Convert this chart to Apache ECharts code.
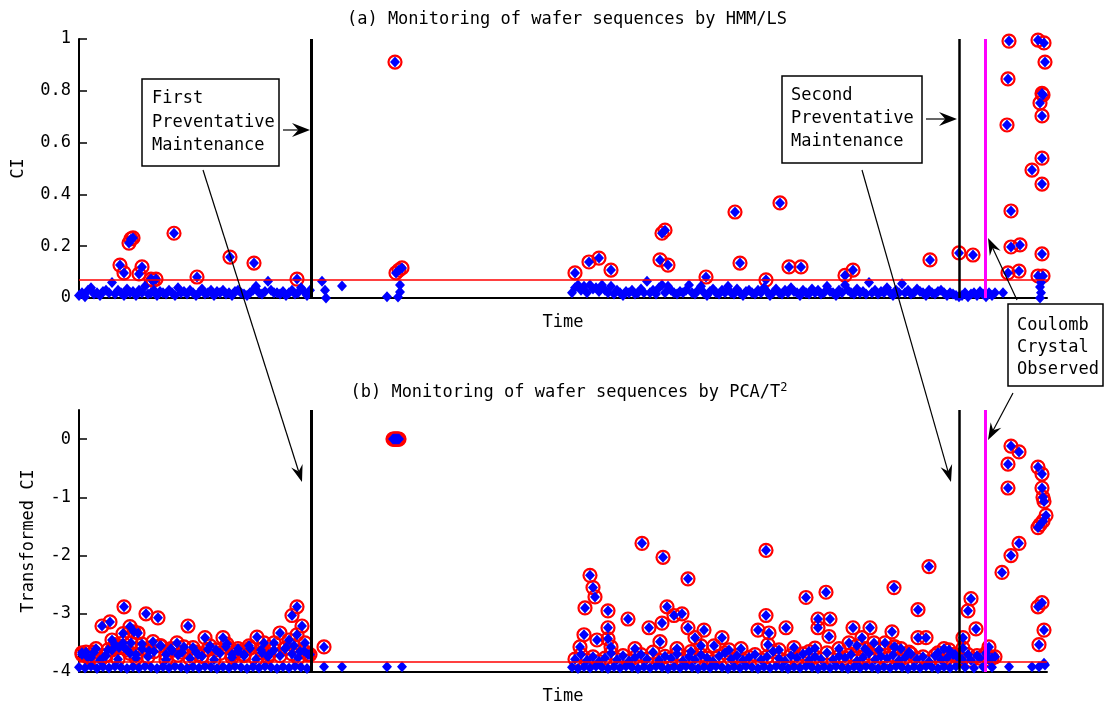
<!DOCTYPE html>
<html><head><meta charset="utf-8">
<script src="https://cdn.jsdelivr.net/npm/echarts@6/dist/echarts.min.js"></script>
<style>html,body{margin:0;padding:0;background:#fff}#chart{width:1105px;height:709px}</style>
</head><body><div id="chart"></div>
<script>
// ---------------- DATA ----------------
// time axis = wafer sample index
const timeMax = 968;
const sampleStep = 3;               // spacing of consecutive samples in the dense runs
const pm1Time = 232;                // first preventative maintenance
const pm2Time = 880;                // second preventative maintenance
const coulombTime = 906;            // Coulomb crystal observed
const hmmThreshold = 0.066;
const pcaThreshold = -3.83;
const hmmTicks = [0, 0.2, 0.4, 0.6, 0.8, 1];
const pcaTicks = [-4, -3, -2, -1, 0];

// (a) HMM/LS  -- dense runs (start sample, values every sampleStep)
const hmmRun1Start = 0;
const hmmRun1 = [0.01,0.02,0.005,0.03,0.04,0.015,0.02,0.01,0.025,0.03,
  0.02,0.06,0.015,0.03,0.02,0.01,0.035,0.02,0.025,0.01,
  0.03,0.02,0.045,0.015,0.02,0.03,0.01,0.025,0.02,0.015,
  0.03,0.02,0.01,0.04,0.02,0.025,0.015,0.03,0.02,0.01,
  0.02,0.035,0.015,0.02,0.03,0.01,0.025,0.02,0.03,0.015,
  0.02,0.01,0.025,0.03,0.02,0.015,0.01,0.02,0.03,0.045,
  0.02,0.015,0.025,0.065,0.03,0.02,0.02,0.015,0.025,0.01,
  0.02,0.03,0.015,0.02,0.04,0.025,0.01,0.03];
const hmmRun2Start = 493;
const hmmRun2 = [0.02,0.04,0.05,0.03,0.045,0.02,0.05,0.035,0.04,0.025,
  0.05,0.03,0.02,0.045,0.015,0.03,0.02,0.01,0.025,0.02,
  0.03,0.015,0.02,0.035,0.02,0.065,0.02,0.03,0.015,0.04,
  0.05,0.02,0.045,0.03,0.02,0.015,0.025,0.02,0.03,0.05,
  0.02,0.015,0.03,0.045,0.02,0.01,0.025,0.035,0.02,0.015,
  0.03,0.02,0.045,0.02,0.015,0.035,0.02,0.01,0.025,0.03,
  0.02,0.015,0.03,0.02,0.04,0.025,0.01,0.02,0.035,0.02,
  0.015,0.03,0.02,0.04,0.025,0.02,0.01,0.03,0.02,0.015,
  0.035,0.02,0.03,0.015,0.02,0.045,0.025,0.02,0.01,0.03,
  0.02,0.05,0.03,0.02,0.015,0.035,0.02,0.025,0.015,0.06,
  0.02,0.03,0.015,0.025,0.02,0.04,0.02,0.01,0.03,0.02,
  0.055,0.02,0.03,0.015,0.02,0.035,0.025,0.02,0.01,0.03,
  0.02,0.015,0.025,0.03,0.02,0.01,0.02,0.015,0.01,0.005];
const hmmRun3Start = 883;
const hmmRun3 = [0.01,0.02,0.005,0.015,0.02,0.01,0.025,0.015,0.005,0.02,0.01,0.02];
// (a) individual samples [time, CI]
const hmmPoints = [
  [41,0.127],[45,0.097],[50,0.212],[52,0.228],[54,0.232],[95,0.25],[60,0.093],[63,0.12],
  [72,0.073],[74,0.068],[77,0.073],[118,0.081],[151,0.158],[175,0.135],[218,0.073],
  [243,0.065],[246,0.03],[247,0.0],[263,0.046],[308,0.005],[316,0.911],[317,0.097],
  [320,0.108],[323,0.116],[321,0.05],[321,0.023],[319,0.004],
  [496,0.097],[510,0.139],[520,0.154],[532,0.108],[581,0.147],[583,0.25],[586,0.262],
  [589,0.127],[627,0.081],[656,0.332],[661,0.135],[687,0.07],[701,0.367],[710,0.12],
  [722,0.12],[766,0.087],[774,0.108],[851,0.147],[880,0.174],[894,0.166],
  [924,0.02],[929,0.097],[930,0.992],[929,0.846],[928,0.668],[932,0.336],[932,0.197],
  [941,0.205],[940,0.104],[953,0.494],[959,0.996],[959,0.085],[961,0.753],[963,0.79],
  [964,0.784],[963,0.703],[963,0.54],[963,0.44],[963,0.17],[964,0.085],[965,0.985],
  [966,0.911],[961,0.042],[962,0.02],[961,0.0],[962,0.06]
];

// (b) PCA/T^2 -- dense runs
const pcaRun1Start = 0;
const pcaRun1 = [-3.92,-3.70,-3.93,-3.75,-3.90,-3.66,-3.94,-3.80,-3.91,-3.72,
  -3.93,-3.62,-3.90,-3.78,-3.92,-3.58,-3.94,-3.68,-3.91,-3.76,
  -3.93,-3.60,-3.90,-3.74,-3.92,-3.65,-3.94,-3.55,-3.91,-3.79,
  -3.93,-3.63,-3.90,-3.71,-3.92,-3.57,-3.94,-3.77,-3.91,-3.66,
  -3.93,-3.73,-3.90,-3.61,-3.92,-3.79,-3.94,-3.68,-3.91,-3.56,
  -3.93,-3.75,-3.90,-3.64,-3.92,-3.70,-3.94,-3.59,-3.91,-3.78,
  -3.93,-3.67,-3.90,-3.74,-3.92,-3.62,-3.94,-3.72,-3.91,-3.58,
  -3.93,-3.69,-3.90,-3.76,-3.92,-3.64,-3.94,-3.70];
const pcaRun2Start = 493;
const pcaRun2 = [-3.92,-3.78,-3.94,-3.70,-3.91,-3.80,-3.93,-3.74,-3.90,-3.82,
  -3.92,-3.76,-3.94,-3.68,-3.91,-3.79,-3.93,-3.72,-3.90,-3.81,
  -3.92,-3.75,-3.94,-3.70,-3.91,-3.78,-3.93,-3.66,-3.90,-3.80,
  -3.92,-3.73,-3.94,-3.77,-3.91,-3.69,-3.93,-3.81,-3.90,-3.74,
  -3.92,-3.79,-3.94,-3.71,-3.91,-3.76,-3.93,-3.82,-3.90,-3.73,
  -3.92,-3.67,-3.94,-3.78,-3.91,-3.72,-3.93,-3.80,-3.90,-3.75,
  -3.92,-3.70,-3.94,-3.79,-3.91,-3.74,-3.93,-3.65,-3.90,-3.77,
  -3.92,-3.81,-3.94,-3.72,-3.91,-3.76,-3.93,-3.69,-3.90,-3.80,
  -3.92,-3.74,-3.94,-3.78,-3.91,-3.67,-3.93,-3.79,-3.90,-3.73,
  -3.92,-3.76,-3.94,-3.70,-3.91,-3.81,-3.93,-3.75,-3.90,-3.68,
  -3.92,-3.79,-3.94,-3.73,-3.91,-3.77,-3.93,-3.71,-3.90,-3.80,
  -3.92,-3.75,-3.94,-3.69,-3.91,-3.78,-3.93,-3.74,-3.90,-3.82,
  -3.92,-3.72,-3.94,-3.79,-3.91,-3.76,-3.93,-3.70,-3.90,-3.77];
const pcaRun3Start = 883;
const pcaRun3 = [-3.78,-3.92,-3.70,-3.80,-3.93,-3.72,-3.76,-3.91,-3.68,-3.79,-3.92,-3.74];
// (b) individual samples [time, transformed CI]
const pcaPoints = [
  [23,-3.21],[31,-3.14],[45,-2.88],[51,-3.22],[44,-3.34],[55,-3.31],[59,-3.33],[67,-3.0],
  [79,-3.07],[109,-3.21],[126,-3.41],[144,-3.41],[178,-3.40],[185,-3.5],[201,-3.33],
  [213,-3.03],[218,-2.88],[223,-3.21],[218,-3.36],[44,-3.5],[3,-3.67],[7,-3.66],[29,-3.62],
  [36,-3.53],[12,-3.75],[17,-3.6],[26,-3.72],[33,-3.45],[40,-3.58],[48,-3.62],[52,-3.5],
  [57,-3.7],[63,-3.52],[70,-3.64],[74,-3.48],[82,-3.55],[87,-3.7],[92,-3.6],[98,-3.5],
  [103,-3.66],[114,-3.58],[119,-3.7],[131,-3.55],[137,-3.62],[148,-3.52],[153,-3.7],
  [159,-3.6],[165,-3.72],[170,-3.55],[182,-3.62],[190,-3.7],[195,-3.5],[206,-3.6],
  [210,-3.45],[215,-3.55],[221,-3.65],[226,-3.5],[229,-3.7],
  [245,-3.57],[245,-3.91],[263,-3.91],[308,-3.91],[323,-3.91],
  [314,0],[315,0],[316,0],[317,0],[318,0],[319,0],[320,0],
  [563,-1.79],[584,-2.03],[511,-2.34],[514,-2.55],[516,-2.71],[506,-2.9],[529,-2.95],
  [609,-2.4],[687,-1.91],[727,-2.72],[747,-2.63],[815,-2.55],[850,-2.19],[839,-2.93],
  [549,-3.09],[588,-2.88],[595,-3.03],[603,-3.0],[583,-3.16],[570,-3.24],[529,-3.24],
  [529,-3.43],[609,-3.24],[625,-3.28],[687,-3.03],[679,-3.28],[707,-3.24],[739,-3.09],
  [751,-3.09],[739,-3.24],[750,-3.39],[774,-3.24],[791,-3.24],[813,-3.31],[816,-3.57],
  [839,-3.41],[847,-3.41],[505,-3.36],[501,-3.57],[518,-3.45],[532,-3.57],[556,-3.6],
  [581,-3.48],[616,-3.41],[643,-3.41],[635,-3.55],[690,-3.33],[689,-3.53],[736,-3.59],
  [770,-3.5],[783,-3.41],[806,-3.5],[815,-3.57],[859,-3.67],
  [598,-3.6],[612,-3.65],[622,-3.55],[650,-3.62],[662,-3.6],[700,-3.62],[715,-3.58],
  [730,-3.65],[760,-3.6],[778,-3.55],[786,-3.6],[795,-3.5],[800,-3.62],[822,-3.6],
  [830,-3.66],[865,-3.6],[870,-3.62],[876,-3.7],
  [892,-2.74],[889,-2.95],[897,-3.26],[884,-3.41],[884,-3.59],[910,-3.57],[913,-3.76],
  [932,-0.12],[940,-0.22],[929,-0.43],[929,-0.84],[959,-0.48],[963,-0.6],[963,-0.84],
  [964,-1.0],[965,-1.07],[967,-1.31],[964,-1.41],[961,-1.47],[959,-1.52],[940,-1.79],
  [932,-2.0],[923,-2.29],[963,-2.81],[959,-2.88],[965,-3.28],[960,-3.53],[930,-3.91],
  [953,-3.91],[960,-3.91],[965,-3.85],[966,-3.88]
];

// ---------------- BUILD ----------------
function run(start, vals) { return vals.map((v, i) => [start + i * sampleStep, v]); }
const hmmAll = [].concat(run(hmmRun1Start, hmmRun1), run(hmmRun2Start, hmmRun2), run(hmmRun3Start, hmmRun3), hmmPoints);
const pcaAll = [].concat(run(pcaRun1Start, pcaRun1), run(pcaRun2Start, pcaRun2), run(pcaRun3Start, pcaRun3), pcaPoints);
const hmmOut = hmmAll.filter(d => d[1] > hmmThreshold);
const pcaOut = pcaAll.filter(d => d[1] > pcaThreshold);

const MONO = '"DejaVu Sans Mono", "Liberation Mono", monospace';
const FS = 17;
const txt = { fontFamily: MONO, fontSize: FS, color: '#000', fontWeight: 'normal' };

function xAxisCfg(gi) {
  return { gridIndex: gi, type: 'value', min: 0, max: timeMax,
    axisLine: { show: true, onZero: false, lineStyle: { color: '#000', width: 2 } },
    axisTick: { show: false }, axisLabel: { show: false }, splitLine: { show: false },
    name: 'Time', nameLocation: 'middle', nameGap: 16, nameTextStyle: txt };
}
function yAxisCfg(gi, min, max, ticks, name, gap) {
  return { gridIndex: gi, type: 'value', min: min, max: max,
    axisLine: { show: true, onZero: false, lineStyle: { color: '#000', width: 2 } },
    axisTick: { show: true, inside: true, length: 8, customValues: ticks, lineStyle: { color: '#000', width: 1.5 } },
    axisLabel: { customValues: ticks, margin: 8, fontFamily: MONO, fontSize: FS, color: '#000' },
    splitLine: { show: false },
    name: name, nameLocation: 'middle', nameGap: gap, nameTextStyle: txt };
}
function rings(gi, data) {
  return { type: 'scatter', xAxisIndex: gi, yAxisIndex: gi, data: data, symbol: 'circle', symbolSize: 13,
    itemStyle: { color: 'rgba(0,0,0,0)', borderColor: '#ff0000', borderWidth: 2.2, opacity: 1 }, silent: true, z: 2 };
}
function dots(gi, data) {
  return { type: 'scatter', xAxisIndex: gi, yAxisIndex: gi, data: data, symbol: 'diamond', symbolSize: [10, 11],
    itemStyle: { color: '#0000ff', opacity: 1 }, silent: true, z: 3 };
}
function lines(gi, thr) {
  return { type: 'scatter', xAxisIndex: gi, yAxisIndex: gi, data: [], z: 4,
    markLine: { silent: true, symbol: 'none', animation: false, label: { show: false },
      data: [
        { yAxis: thr, lineStyle: { color: '#ff0000', width: 1.5, type: 'solid' } },
        { xAxis: pm1Time, lineStyle: { color: '#000', width: 3, type: 'solid' } },
        { xAxis: pm2Time, lineStyle: { color: '#000', width: 2.5, type: 'solid' } },
        { xAxis: coulombTime, lineStyle: { color: '#ff00ff', width: 3, type: 'solid' } }
      ] } };
}

// annotation helpers (pixel layout)
function arrow(x1, y1, x2, y2, len, hw) {
  const dx = x2 - x1, dy = y2 - y1, L = Math.hypot(dx, dy), ux = dx / L, uy = dy / L, px = -uy, py = ux;
  const bx = x2 - ux * len, by = y2 - uy * len;
  const nx = x2 - ux * len * 0.65, ny = y2 - uy * len * 0.65;
  return [
    { type: 'line', shape: { x1: x1, y1: y1, x2: nx, y2: ny }, style: { stroke: '#000', lineWidth: 1.2 }, z: 100 },
    { type: 'polygon', shape: { points: [[x2, y2], [bx + px * hw, by + py * hw], [nx, ny], [bx - px * hw, by - py * hw]] },
      style: { fill: '#000' }, z: 100 }
  ];
}
function box(x, y, w, h, linesTxt, tx, ty0, lh) {
  const els = [{ type: 'rect', shape: { x: x, y: y, width: w, height: h }, style: { fill: '#fff', stroke: '#000', lineWidth: 1.5 }, z: 101 }];
  linesTxt.forEach((t, i) => els.push({ type: 'text', z: 102,
    style: { text: t, x: tx, y: ty0 + i * lh, fill: '#000', font: FS + 'px ' + MONO, verticalAlign: 'middle', align: 'left' } }));
  return els;
}
const graphics = [].concat(
  arrow(283, 130, 310, 130, 18, 7),
  arrow(203, 170, 302, 482, 17, 6),
  arrow(926, 119, 957, 119, 18, 7),
  arrow(862, 170, 951, 482, 17, 6),
  arrow(1017, 300, 988, 238, 17, 6),
  arrow(1013, 393, 988, 440, 17, 6),
  box(142, 79, 137, 87, ['First', 'Preventative', 'Maintenance'], 152, 99, 23.5),
  box(782, 76, 140, 87, ['Second', 'Preventative', 'Maintenance'], 791, 96, 23),
  box(1008, 304, 95, 82, ['Coulomb', 'Crystal', 'Observed'], 1017, 326, 22)
);

const option = {
  animation: false,
  backgroundColor: '#fff',
  title: [
    { text: '(a) Monitoring of wafer sequences by HMM/LS', left: 562, top: 6, textAlign: 'center', textStyle: txt },
    { text: '(b) Monitoring of wafer sequences by PCA/T{sup|2}', left: 564, top: 377, textAlign: 'center',
      textStyle: Object.assign({}, txt, { rich: { sup: { fontFamily: MONO, fontSize: 12, color: '#000', padding: [0, 0, 10, 0] } } }) }
  ],
  grid: [
    { left: 79, right: 1105 - 79 - 968, top: 39, height: 259 },
    { left: 79, right: 1105 - 79 - 968, top: 410, height: 262 }
  ],
  xAxis: [xAxisCfg(0), xAxisCfg(1)],
  yAxis: [yAxisCfg(0, 0, 1, hmmTicks, 'CI', 52), yAxisCfg(1, -4, 0.5, pcaTicks, 'Transformed CI', 42)],
  series: [rings(0, hmmOut), dots(0, hmmAll), lines(0, hmmThreshold),
           rings(1, pcaOut), dots(1, pcaAll), lines(1, pcaThreshold)],
  graphic: graphics
};
const chart = echarts.init(document.getElementById('chart'));
chart.setOption(option);
</script></body></html>
